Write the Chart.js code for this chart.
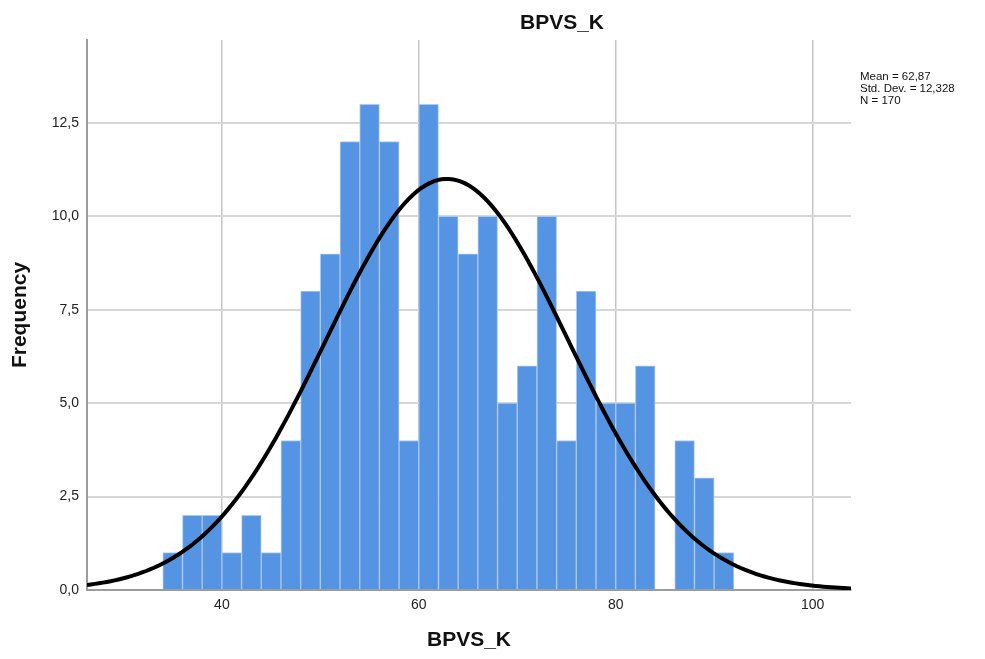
<!DOCTYPE html>
<html>
<head>
<meta charset="utf-8">
<title>BPVS_K</title>
<script src="https://cdn.jsdelivr.net/npm/chart.js@4.4.1/dist/chart.umd.min.js"></script>
<style>
  html, body { margin: 0; padding: 0; background: #fff; }
  #wrap { width: 985px; height: 659px; }
</style>
</head>
<body>
<div id="wrap"><canvas id="histogram"></canvas></div>
<script>
// Histogram bins: centre of each 2-point bin and its count
const binCenters = [35, 37, 39, 41, 43, 45, 47, 49, 51, 53, 55, 57, 59, 61, 63, 65, 67, 69, 71, 73, 75, 77, 79, 81, 83, 85, 87, 89, 91];
const binCounts  = [1, 2, 2, 1, 2, 1, 4, 8, 9, 12, 13, 12, 4, 13, 10, 9, 10, 5, 6, 10, 4, 8, 5, 5, 6, 0, 4, 3, 1];
const binWidth = 2;

// Summary statistics shown next to the plot
const statMean = 62.87;
const statSd = 12.328;
const statN = 170;
const statLabels = ['Mean = 62,87', 'Std. Dev. = 12,328', 'N = 170'];

// Axis ranges and tick labels
const xMin = 26.3;
const xMax = 103.9;
const xTicks = [40, 60, 80, 100];
const yMax = 14.72;
const yTicks = [0, 2.5, 5, 7.5, 10, 12.5];

const FONT = "'Liberation Sans', Arial, sans-serif";

/**
 * Normal curve scaled to the histogram (N * bin width * density)
 */
function normalCurve(mean, sd, n, width) {
  const points = [];
  for (let x = xMin; x <= xMax + 0.01; x += 0.4) {
    const z = (x - mean) / sd;
    const y = n * width * Math.exp(-0.5 * z * z) / (sd * Math.sqrt(2 * Math.PI));
    points.push({ x: x, y: y });
  }
  return points;
}

// Title and the statistics box, drawn over the canvas
const textPlugin = {
  id: 'histText',
  afterDraw(chart) {
    const ctx = chart.ctx;
    ctx.save();
    ctx.fillStyle = '#111';
    ctx.textBaseline = 'middle';
    ctx.textAlign = 'center';
    ctx.font = 'bold 21px ' + FONT;
    ctx.fillText('BPVS_K', 562, 23);

    ctx.textAlign = 'left';
    ctx.font = '11.5px ' + FONT;
    statLabels.forEach((t, i) => ctx.fillText(t, 860, 77 + i * 12));
    ctx.restore();
  }
};

const barData = binCenters.map((c, i) => ({ x: c, y: binCounts[i] }));

new Chart(document.getElementById('histogram'), {
  type: 'bar',
  data: {
    datasets: [
      {
        type: 'line',
        data: normalCurve(statMean, statSd, statN, binWidth),
        borderColor: '#000',
        borderWidth: 4,
        pointRadius: 0,
        fill: false,
        tension: 0,
        order: 0
      },
      {
        type: 'bar',
        data: barData,
        backgroundColor: '#5594e2',
        borderColor: '#acc9f0',
        borderWidth: 1,
        barPercentage: 1,
        categoryPercentage: 1,
        order: 1
      }
    ]
  },
  options: {
    responsive: true,
    maintainAspectRatio: false,
    animation: false,
    layout: { padding: { top: 40, right: 134, bottom: 0, left: 0 } },
    plugins: {
      legend: { display: false },
      tooltip: { enabled: false }
    },
    scales: {
      x: {
        type: 'linear',
        min: xMin,
        max: xMax,
        offset: false,
        afterFit: (scale) => { scale.height = 69; },
        afterBuildTicks: (scale) => { scale.ticks = xTicks.map(v => ({ value: v })); },
        grid: { color: '#c6c6c6', lineWidth: 1.5, drawTicks: false, offset: false },
        border: { color: '#9c9c9c', width: 2 },
        ticks: {
          padding: 7,
          color: '#222',
          font: { family: FONT, size: 14 }
        },
        title: {
          display: true,
          text: 'BPVS_K',
          color: '#111',
          font: { family: FONT, size: 21, weight: 'bold' },
          padding: { top: 4, bottom: 6.4 }
        }
      },
      y: {
        min: 0,
        max: yMax,
        afterFit: (scale) => { scale.width = 87; },
        afterBuildTicks: (scale) => { scale.ticks = yTicks.map(v => ({ value: v })); },
        grid: { color: '#d6d6d6', lineWidth: 2, drawTicks: false },
        border: { color: '#9c9c9c', width: 2 },
        ticks: {
          padding: 8,
          color: '#222',
          font: { family: FONT, size: 14 },
          callback: (v) => v.toFixed(1).replace('.', ',')
        },
        title: {
          display: true,
          text: 'Frequency',
          color: '#111',
          font: { family: FONT, size: 21, weight: 'bold' },
          padding: { top: 7.4, bottom: 4 }
        }
      }
    }
  },
  plugins: [textPlugin]
});
</script>
</body>
</html>
